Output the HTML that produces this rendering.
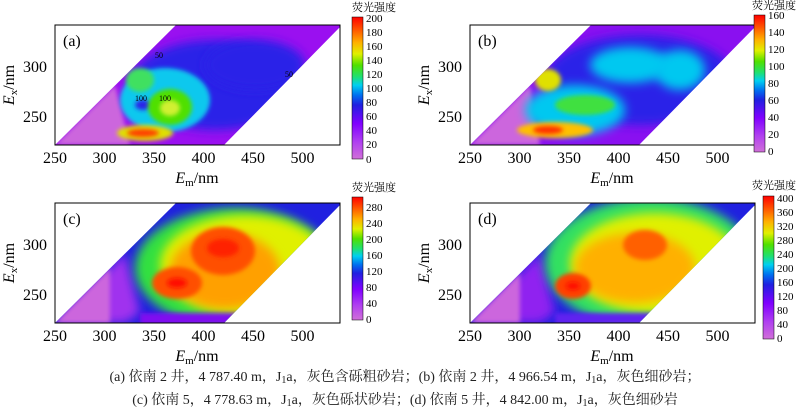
<!DOCTYPE html><html><head><meta charset="utf-8"><style>
body{margin:0;background:#fff;width:800px;height:414px;overflow:hidden}
svg text{font-family:"Liberation Serif","Noto Serif CJK SC",serif}
</style></head><body>
<svg width="800" height="414" viewBox="0 0 800 414" xmlns="http://www.w3.org/2000/svg">
<defs>
<filter id="bl" x="-50%" y="-50%" width="200%" height="200%"><feGaussianBlur stdDeviation="5"/></filter>
<filter id="bs" x="-50%" y="-50%" width="200%" height="200%"><feGaussianBlur stdDeviation="2"/></filter>
<clipPath id="cp"><polygon points="0,120 121,0 285,0 285,2 169,120"/></clipPath>
<linearGradient id="cb" x1="0" y1="1" x2="0" y2="0">
<stop offset="0" stop-color="#d070d8"/><stop offset="0.12" stop-color="#b040f0"/><stop offset="0.25" stop-color="#8000ff"/><stop offset="0.38" stop-color="#2020e0"/><stop offset="0.45" stop-color="#0070f0"/><stop offset="0.52" stop-color="#00d0f0"/><stop offset="0.58" stop-color="#20e070"/><stop offset="0.66" stop-color="#50e000"/><stop offset="0.74" stop-color="#e0f000"/><stop offset="0.82" stop-color="#ffb000"/><stop offset="0.9" stop-color="#ff6000"/><stop offset="1" stop-color="#ff0000"/>
</linearGradient>
</defs>

<!-- Panel a -->
<g transform="translate(55,25)">
<g clip-path="url(#cp)">
<rect x="0" y="0" width="285" height="120" fill="#9a10f0"/>
<polygon points="0,120 60,60 75,120" fill="#cc66dd" filter="url(#bs)"/>
<ellipse cx="160" cy="60" rx="85" ry="45" fill="#2a20e8" filter="url(#bl)"/>
<ellipse cx="200" cy="40" rx="50" ry="25" fill="#2a20e8" filter="url(#bl)"/>
<ellipse cx="110" cy="75" rx="45" ry="32" fill="#10c8ee" filter="url(#bs)"/>
<ellipse cx="88" cy="80" rx="8" ry="5" fill="#2a20e8" filter="url(#bs)"/>
<ellipse cx="85" cy="55" rx="14" ry="12" fill="#40e060" filter="url(#bs)"/>
<ellipse cx="115" cy="82" rx="22" ry="18" fill="#50e000" filter="url(#bs)"/>
<ellipse cx="115" cy="83" rx="10" ry="8" fill="#d0f030" filter="url(#bs)"/>
<ellipse cx="90" cy="108" rx="28" ry="8" fill="#e0e000" filter="url(#bs)"/>
<ellipse cx="88" cy="108" rx="16" ry="4" fill="#ff4000" filter="url(#bs)"/>
</g>
<text x="100" y="33" font-size="8" font-family="Liberation Sans">50</text>
<text x="230" y="52" font-size="8" font-family="Liberation Sans">50</text>
<text x="80" y="76" font-size="8" font-family="Liberation Sans">100</text>
<text x="104" y="76" font-size="8" font-family="Liberation Sans">100</text>
</g>
<!-- Panel b -->
<g transform="translate(470,25)">
<g clip-path="url(#cp)">
<rect x="0" y="0" width="285" height="120" fill="#8a10f0"/>
<polygon points="0,120 60,60 70,120" fill="#cc66dd" filter="url(#bs)"/>
<ellipse cx="170" cy="55" rx="95" ry="45" fill="#2a20e8" filter="url(#bl)"/>
<ellipse cx="160" cy="40" rx="40" ry="18" fill="#00c8f0" filter="url(#bl)"/>
<ellipse cx="210" cy="45" rx="25" ry="20" fill="#00c8f0" filter="url(#bl)"/>
<ellipse cx="105" cy="85" rx="50" ry="25" fill="#00c8f0" filter="url(#bl)"/>
<ellipse cx="78" cy="55" rx="13" ry="11" fill="#e0e000" filter="url(#bs)"/>
<ellipse cx="115" cy="80" rx="30" ry="10" fill="#40e040" filter="url(#bs)"/>
<ellipse cx="85" cy="105" rx="38" ry="8" fill="#ffc000" filter="url(#bs)"/>
<ellipse cx="78" cy="105" rx="15" ry="4" fill="#ff3000" filter="url(#bs)"/>
</g>
</g>
<!-- Panel c -->
<g transform="translate(55,203)">
<g clip-path="url(#cp)">
<rect x="0" y="0" width="285" height="120" fill="#2020e0"/>
<polygon points="0,120 70,50 85,110 70,120" fill="#a030ee" filter="url(#bl)"/>
<polygon points="0,120 55,65 55,120" fill="#cc66dd" filter="url(#bs)"/>
<ellipse cx="180" cy="65" rx="100" ry="60" fill="#30e040" filter="url(#bl)"/>
<ellipse cx="190" cy="62" rx="85" ry="50" fill="#e0f000" filter="url(#bl)"/>
<ellipse cx="170" cy="68" rx="55" ry="38" fill="#ffa000" filter="url(#bl)"/>
<ellipse cx="168" cy="48" rx="32" ry="24" fill="#ff5000" filter="url(#bs)"/>
<ellipse cx="122" cy="80" rx="25" ry="16" fill="#ff5000" filter="url(#bs)"/>
<ellipse cx="168" cy="45" rx="16" ry="9" fill="#ff2000" filter="url(#bs)"/>
<ellipse cx="122" cy="80" rx="10" ry="5" fill="#ff1000" filter="url(#bs)"/>
<rect x="85" y="110" width="160" height="12" fill="#8010f0" filter="url(#bs)"/>
</g>
</g>
<!-- Panel d -->
<g transform="translate(470,203)">
<g clip-path="url(#cp)">
<rect x="0" y="0" width="285" height="120" fill="#2020e0"/>
<polygon points="0,120 70,50 85,110 70,120" fill="#9020f0" filter="url(#bl)"/>
<polygon points="0,120 50,70 50,120" fill="#cc66dd" filter="url(#bs)"/>
<ellipse cx="180" cy="60" rx="105" ry="65" fill="#30e060" filter="url(#bl)"/>
<ellipse cx="185" cy="60" rx="85" ry="50" fill="#e0f000" filter="url(#bl)"/>
<ellipse cx="165" cy="65" rx="60" ry="35" fill="#ffb000" filter="url(#bl)"/>
<ellipse cx="175" cy="42" rx="22" ry="15" fill="#ff6000" filter="url(#bs)"/>
<ellipse cx="103" cy="83" rx="18" ry="13" fill="#ff4000" filter="url(#bs)"/>
<ellipse cx="103" cy="83" rx="7" ry="4" fill="#ff1000" filter="url(#bs)"/>
<rect x="85" y="110" width="160" height="12" fill="#6020f0" filter="url(#bs)"/>
</g>
</g>

<g fill="none" stroke="#000" stroke-width="1">
<rect x="55" y="25" width="285" height="120"/><rect x="470" y="25" width="285" height="120"/>
<rect x="55" y="203" width="285" height="120"/><rect x="470" y="203" width="285" height="120"/>
</g>
<g font-size="16" text-anchor="middle">
<g id="xa">
<text x="55" y="163">250</text><text x="104.5" y="163">300</text><text x="154" y="163">350</text><text x="203.5" y="163">400</text><text x="253" y="163">450</text><text x="302.5" y="163">500</text>
<text x="197" y="183"><tspan font-style="italic">E</tspan><tspan font-size="11" dy="3">m</tspan><tspan dy="-3">/nm</tspan></text>
<text x="47" y="72" text-anchor="end">300</text><text x="47" y="122" text-anchor="end">250</text>
<text transform="translate(14,85) rotate(-90)"><tspan font-style="italic">E</tspan><tspan font-size="11" dy="3">x</tspan><tspan dy="-3">/nm</tspan></text>
</g>
<use href="#xa" x="415"/><use href="#xa" y="178"/><use href="#xa" x="415" y="178"/>
</g>
<text x="63" y="46" font-size="16">(a)</text><text x="478" y="46" font-size="16">(b)</text>
<text x="63" y="224" font-size="16">(c)</text><text x="478" y="224" font-size="16">(d)</text>

<g font-size="11">
<text x="352" y="11">荧光强度</text>
<rect x="352" y="17" width="11" height="142" fill="url(#cb)" stroke="#000" stroke-width="0.5"/>
<g><text x="366" y="163">0</text><text x="366" y="148">20</text><text x="366" y="134">40</text><text x="366" y="120">60</text><text x="366" y="106">80</text><text x="366" y="92">100</text><text x="366" y="78">120</text><text x="366" y="64">140</text><text x="366" y="50">160</text><text x="366" y="36">180</text><text x="366" y="22">200</text></g>
<text x="752" y="9">荧光强度</text>
<rect x="754" y="15" width="11" height="137" fill="url(#cb)" stroke="#000" stroke-width="0.5"/>
<g><text x="768" y="155">0</text><text x="768" y="138">20</text><text x="768" y="121">40</text><text x="768" y="104">60</text><text x="768" y="87">80</text><text x="768" y="70">100</text><text x="768" y="53">120</text><text x="768" y="36">140</text><text x="768" y="19">160</text></g>
<text x="352" y="191">荧光强度</text>
<rect x="352" y="197" width="11" height="123" fill="url(#cb)" stroke="#000" stroke-width="0.5"/>
<g><text x="366" y="323">0</text><text x="366" y="307">40</text><text x="366" y="291">80</text><text x="366" y="275">120</text><text x="366" y="259">160</text><text x="366" y="243">200</text><text x="366" y="227">240</text><text x="366" y="211">280</text></g>
<text x="752" y="189">荧光强度</text>
<rect x="763" y="196" width="11" height="143" fill="url(#cb)" stroke="#000" stroke-width="0.5"/>
<g><text x="777" y="342">0</text><text x="777" y="328">40</text><text x="777" y="314">80</text><text x="777" y="300">120</text><text x="777" y="286">160</text><text x="777" y="272">200</text><text x="777" y="258">240</text><text x="777" y="244">280</text><text x="777" y="230">320</text><text x="777" y="216">360</text><text x="777" y="202">400</text></g>
</g>
<g font-size="14" text-anchor="middle" fill="#222">
<text x="405" y="381">(a)  依南 2 井，4 787.40 m，J<tspan font-size="10" dy="2">1</tspan><tspan dy="-2">a，灰色含砾粗砂岩；(b)  依南 2 井，4 966.54 m，J</tspan><tspan font-size="10" dy="2">1</tspan><tspan dy="-2">a，灰色细砂岩；</tspan></text>
<text x="405" y="404">(c)  依南 5，4 778.63 m，J<tspan font-size="10" dy="2">1</tspan><tspan dy="-2">a，灰色砾状砂岩；(d)  依南 5 井，4 842.00 m，J</tspan><tspan font-size="10" dy="2">1</tspan><tspan dy="-2">a，灰色细砂岩</tspan></text>
</g>
</svg>
</body></html>
